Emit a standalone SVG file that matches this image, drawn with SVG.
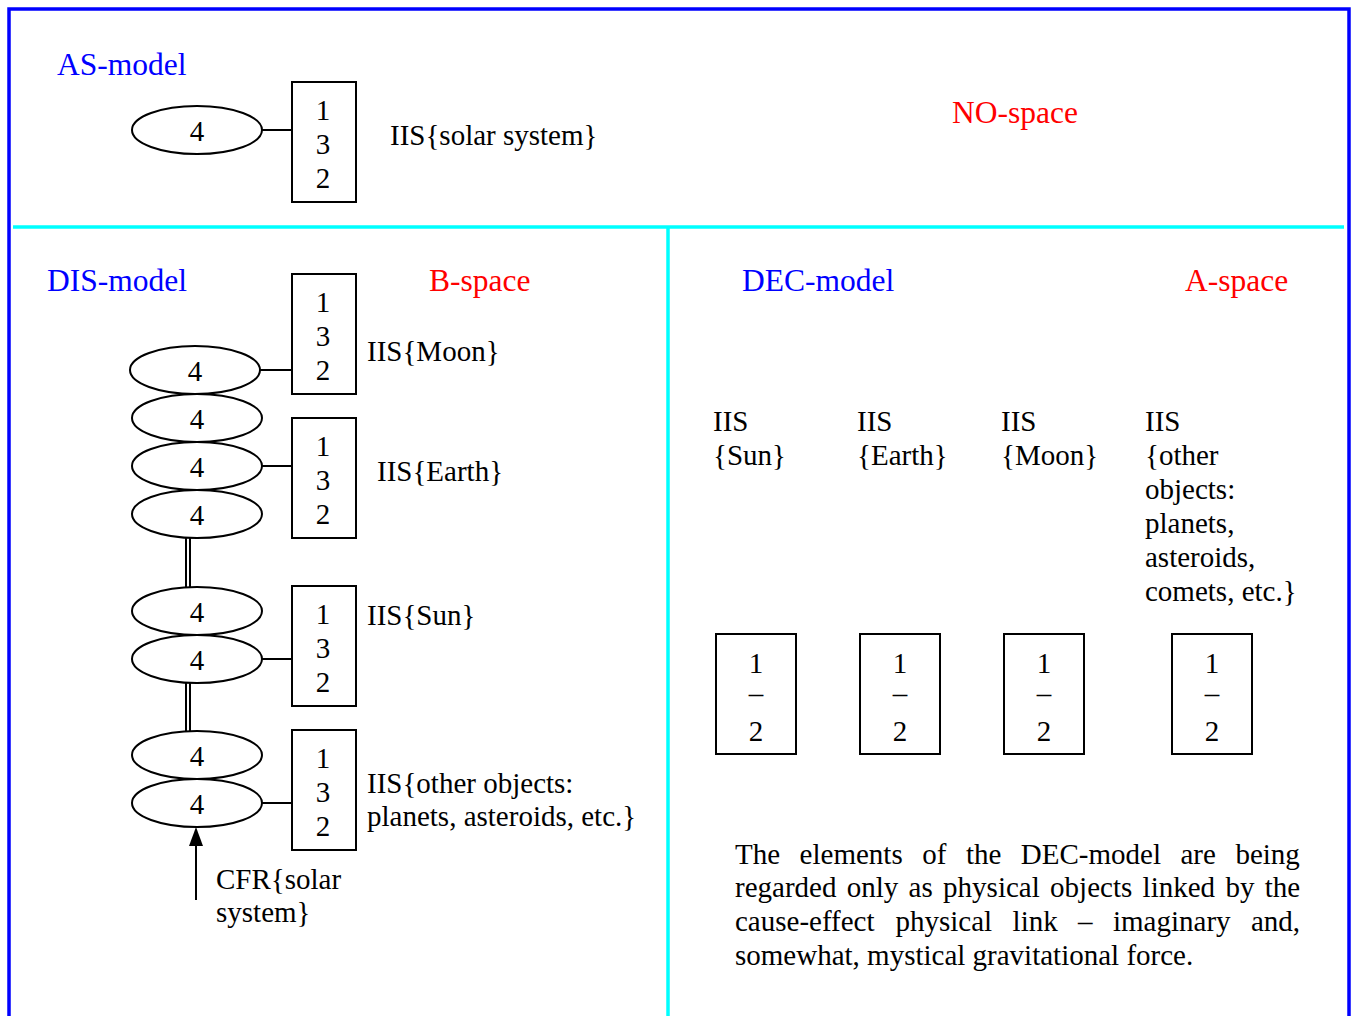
<svg xmlns="http://www.w3.org/2000/svg" width="1353" height="1016" viewBox="0 0 1353 1016">
<defs>
<style>
text{font-family:"Liberation Serif","Times New Roman",serif;font-size:29px;fill:#000}
.h{font-size:31.5px}
.blue{fill:#0000FF}
.red{fill:#FF0000}
.c{text-anchor:middle}
.ell{fill:#fff;stroke:#000;stroke-width:2}
.box{fill:#fff;stroke:#000;stroke-width:2}
.ln{stroke:#000;stroke-width:2;fill:none}
.cy{stroke:#00FFFF;stroke-width:3.5;fill:none}
</style>
<marker id="ah" viewBox="0 0 14 20" refX="7" refY="0" markerWidth="14" markerHeight="20" markerUnits="userSpaceOnUse" orient="auto-start-reverse">
<path d="M0,20 L7,0 L14,20 Z" fill="#000"/>
</marker>
</defs>
<rect width="1353" height="1016" fill="#fff"/>
<g id="frame">
<rect x="9" y="9" width="1340" height="1030" fill="none" stroke="#0000FF" stroke-width="3.5"/>
<line class="cy" x1="13" y1="227" x2="1344" y2="227"/>
<line class="cy" x1="668" y1="227" x2="668" y2="1016"/>
</g>
<g id="labels">
<text class="h blue" x="57" y="75">AS-model</text>
<text class="h red" x="952" y="123">NO-space</text>
<text class="h blue" x="47" y="291">DIS-model</text>
<text class="h red" x="429" y="291">B-space</text>
<text class="h blue" x="742" y="291">DEC-model</text>
<text class="h red" x="1185" y="291">A-space</text>
</g>
<g id="connectors">
<line class="ln" x1="262" y1="130" x2="292" y2="130"/>
<line class="ln" x1="260" y1="370" x2="292" y2="370"/>
<line class="ln" x1="262" y1="466" x2="292" y2="466"/>
<line class="ln" x1="262" y1="659" x2="292" y2="659"/>
<line class="ln" x1="262" y1="803" x2="292" y2="803"/>
<line class="ln" x1="186" y1="538" x2="186" y2="587"/>
<line class="ln" x1="190" y1="538" x2="190" y2="587"/>
<line class="ln" x1="186" y1="683" x2="186" y2="731"/>
<line class="ln" x1="190" y1="683" x2="190" y2="731"/>
<line class="ln" x1="196" y1="900" x2="196" y2="845"/>
<path d="M189,846 L196,827 L203,846 Z" fill="#000"/>
</g>
<g id="as-ellipse"><ellipse class="ell" cx="197" cy="130" rx="65" ry="24"/><text class="c" x="197" y="141">4</text></g>
<g id="as-box"><rect class="box" x="292" y="82" width="64" height="120"/><text class="c" x="323" y="120">1</text><text class="c" x="323" y="154">3</text><text class="c" x="323" y="188">2</text></g>
<text id="as-label" x="390" y="145">IIS{solar system}</text>

<g id="e1"><ellipse class="ell" cx="195" cy="370" rx="65" ry="24"/><text class="c" x="195" y="381">4</text></g>
<g id="e2"><ellipse class="ell" cx="197" cy="418" rx="65" ry="24"/><text class="c" x="197" y="429">4</text></g>
<g id="e3"><ellipse class="ell" cx="197" cy="466" rx="65" ry="24"/><text class="c" x="197" y="477">4</text></g>
<g id="e4"><ellipse class="ell" cx="197" cy="514" rx="65" ry="24"/><text class="c" x="197" y="525">4</text></g>
<g id="e5"><ellipse class="ell" cx="197" cy="611" rx="65" ry="24"/><text class="c" x="197" y="622">4</text></g>
<g id="e6"><ellipse class="ell" cx="197" cy="659" rx="65" ry="24"/><text class="c" x="197" y="670">4</text></g>
<g id="e7"><ellipse class="ell" cx="197" cy="755" rx="65" ry="24"/><text class="c" x="197" y="766">4</text></g>
<g id="e8"><ellipse class="ell" cx="197" cy="803" rx="65" ry="24"/><text class="c" x="197" y="814">4</text></g>

<g id="b-moon"><rect class="box" x="292" y="274" width="64" height="120"/><text class="c" x="323" y="312">1</text><text class="c" x="323" y="346">3</text><text class="c" x="323" y="380">2</text></g>
<g id="b-earth"><rect class="box" x="292" y="418" width="64" height="120"/><text class="c" x="323" y="456">1</text><text class="c" x="323" y="490">3</text><text class="c" x="323" y="524">2</text></g>
<g id="b-sun"><rect class="box" x="292" y="586" width="64" height="120"/><text class="c" x="323" y="624">1</text><text class="c" x="323" y="658">3</text><text class="c" x="323" y="692">2</text></g>
<g id="b-other"><rect class="box" x="292" y="730" width="64" height="120"/><text class="c" x="323" y="768">1</text><text class="c" x="323" y="802">3</text><text class="c" x="323" y="836">2</text></g>

<g id="dis-labels">
<text x="367" y="361">IIS{Moon}</text>
<text x="377" y="481">IIS{Earth}</text>
<text x="367" y="625">IIS{Sun}</text>
<text x="367" y="793">IIS{other objects:</text>
<text x="367" y="826">planets, asteroids, etc.}</text>
<text x="216" y="889">CFR{solar</text>
<text x="216" y="922">system}</text>
</g>

<g id="dec-labels">
<text x="713" y="431">IIS</text><text x="713" y="465">{Sun}</text>
<text x="857" y="431">IIS</text><text x="857" y="465">{Earth}</text>
<text x="1001" y="431">IIS</text><text x="1001" y="465">{Moon}</text>
<text x="1145" y="431">IIS</text><text x="1145" y="465">{other</text><text x="1145" y="499">objects:</text><text x="1145" y="533">planets,</text><text x="1145" y="567">asteroids,</text><text x="1145" y="601">comets, etc.}</text>
</g>

<g id="d-sun"><rect class="box" x="716" y="634" width="80" height="120"/><text class="c" x="756" y="673">1</text><text class="c" x="756" y="703">–</text><text class="c" x="756" y="741">2</text></g>
<g id="d-earth"><rect class="box" x="860" y="634" width="80" height="120"/><text class="c" x="900" y="673">1</text><text class="c" x="900" y="703">–</text><text class="c" x="900" y="741">2</text></g>
<g id="d-moon"><rect class="box" x="1004" y="634" width="80" height="120"/><text class="c" x="1044" y="673">1</text><text class="c" x="1044" y="703">–</text><text class="c" x="1044" y="741">2</text></g>
<g id="d-other"><rect class="box" x="1172" y="634" width="80" height="120"/><text class="c" x="1212" y="673">1</text><text class="c" x="1212" y="703">–</text><text class="c" x="1212" y="741">2</text></g>

<g id="paragraph">
<text y="864"><tspan x="735">The</tspan><tspan x="799.6">elements</tspan><tspan x="922.2">of</tspan><tspan x="965.9">the</tspan><tspan x="1020.8">DEC-model</tspan><tspan x="1180.5">are</tspan><tspan x="1235.4">being</tspan></text>
<text y="897"><tspan x="735">regarded</tspan><tspan x="846.7">only</tspan><tspan x="908.6">as</tspan><tspan x="943.1">physical</tspan><tspan x="1050.1">objects</tspan><tspan x="1142.6">linked</tspan><tspan x="1225.4">by</tspan><tspan x="1264.7">the</tspan></text>
<text y="931"><tspan x="735">cause-effect</tspan><tspan x="895.5">physical</tspan><tspan x="1012.6">link</tspan><tspan x="1078.1">–</tspan><tspan x="1113">imaginary</tspan><tspan x="1251">and,</tspan></text>
<text x="735" y="965">somewhat, mystical gravitational force.</text>
</g>
</svg>
